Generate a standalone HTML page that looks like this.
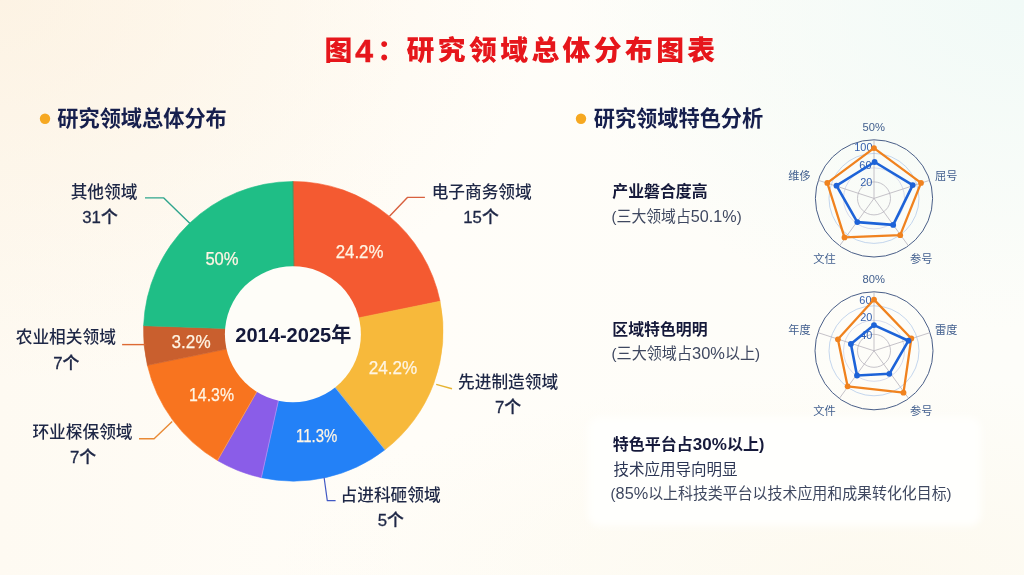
<!DOCTYPE html>
<html lang="zh-CN"><head><meta charset="utf-8"><title>图4：研究领域总体分布图表</title>
<style>
html,body{margin:0;padding:0;}
body{width:1024px;height:575px;overflow:hidden;font-family:"Liberation Sans","Noto Sans CJK SC",sans-serif;
background:
 radial-gradient(ellipse 540px 380px at 0% 0%, rgba(252,240,222,0.7), rgba(252,239,220,0) 100%),
 radial-gradient(ellipse 460px 330px at 100% 0%, rgba(241,250,247,1), rgba(241,250,247,0) 100%),
 radial-gradient(ellipse 600px 200px at 85% 100%, rgba(253,249,238,0.9), rgba(253,249,238,0) 100%),
 linear-gradient(90deg,#fefaf2 0%,#fffdf8 40%,#fdfdf9 100%);}
svg{display:block}
</style></head><body>
<svg width="1024" height="575" viewBox="0 0 1024 575" font-family='"Liberation Sans","Noto Sans CJK SC",sans-serif'>
<defs><filter id="blur" x="-10%" y="-20%" width="120%" height="140%"><feGaussianBlur stdDeviation="3"/></filter></defs>
<rect x="588" y="417" width="393" height="109" rx="12" fill="#fffffd" filter="url(#blur)"/>
<path d="M293.93 280.00L293.00 181.50A149.8 149.8 0 0 1 440.05 301.23L346.18 320.40Z" fill="#f45a31" stroke="#f45a31" stroke-width="0.6"/><path d="M346.18 320.40L440.05 301.23A149.8 149.8 0 0 1 384.92 449.82L326.87 377.06Z" fill="#f7b93b" stroke="#f7b93b" stroke-width="0.6"/><path d="M326.87 377.06L384.92 449.82A149.8 149.8 0 0 1 261.37 477.66L281.43 387.03Z" fill="#2381f7" stroke="#2381f7" stroke-width="0.6"/><path d="M281.43 387.03L261.37 477.66A149.8 149.8 0 0 1 217.50 460.50L263.96 379.35Z" fill="#8a5de8" stroke="#8a5de8" stroke-width="0.6"/><path d="M263.96 379.35L217.50 460.50A149.8 149.8 0 0 1 147.41 365.32L238.61 346.58Z" fill="#f8741f" stroke="#f8741f" stroke-width="0.6"/><path d="M238.61 346.58L147.41 365.32A149.8 149.8 0 0 1 143.60 325.70L238.89 328.98Z" fill="#c95f2e" stroke="#c95f2e" stroke-width="0.6"/><path d="M238.89 328.98L143.60 325.70A149.8 149.8 0 0 1 293.00 181.50L293.93 280.00Z" fill="#1fbe86" stroke="#1fbe86" stroke-width="0.6"/><line x1="293.93" y1="280.00" x2="293.00" y2="181.50" stroke="#8a5a30" stroke-opacity="0.55" stroke-width="0.9"/><line x1="326.87" y1="377.06" x2="384.92" y2="449.82" stroke="#ffe9b0" stroke-opacity="0.5" stroke-width="0.9"/><line x1="281.43" y1="387.03" x2="261.37" y2="477.66" stroke="#c9b6ff" stroke-opacity="0.5" stroke-width="0.9"/><line x1="263.96" y1="379.35" x2="217.50" y2="460.50" stroke="#ffc9a0" stroke-opacity="0.45" stroke-width="0.9"/><circle cx="292.9" cy="334.2" r="68.0" fill="#fefdf8"/>
<path d="M145 197.9L163.8 197.9L190 223.6" fill="none" stroke="#2fa58d" stroke-width="1.4" stroke-linejoin="round"/><path d="M424.9 197.4L407.4 197.4L389.5 216.2" fill="none" stroke="#d8603e" stroke-width="1.4" stroke-linejoin="round"/><path d="M122.1 344.6L145.5 344.6" fill="none" stroke="#dd6a33" stroke-width="1.4" stroke-linejoin="round"/><path d="M436.2 384.4L452 388.7" fill="none" stroke="#e6b432" stroke-width="1.4" stroke-linejoin="round"/><path d="M139 438.7L154.1 438.7L172.2 421.5" fill="none" stroke="#e98a35" stroke-width="1.4" stroke-linejoin="round"/><path d="M324.1 477.5L327.3 500.6L335.6 500.6" fill="none" stroke="#4159c4" stroke-width="1.2" stroke-linejoin="round"/>
<text x="222" y="264.59999999999997" font-size="17.9" fill="#fff5e4" font-weight="400" text-anchor="middle" stroke="#fff5e4" stroke-width="0.25" textLength="33.2" lengthAdjust="spacingAndGlyphs">50%</text><text x="359.6" y="257.8" font-size="17.9" fill="#fff5e4" font-weight="400" text-anchor="middle" stroke="#fff5e4" stroke-width="0.25" textLength="47.8" lengthAdjust="spacingAndGlyphs">24.2%</text><text x="393" y="373.9" font-size="17.9" fill="#fff5e4" font-weight="400" text-anchor="middle" stroke="#fff5e4" stroke-width="0.25" textLength="48.5" lengthAdjust="spacingAndGlyphs">24.2%</text><text x="316.7" y="442.0" font-size="17.9" fill="#fff5e4" font-weight="400" text-anchor="middle" stroke="#fff5e4" stroke-width="0.25" textLength="41.3" lengthAdjust="spacingAndGlyphs">11.3%</text><text x="211.5" y="401.0" font-size="17.9" fill="#fff5e4" font-weight="400" text-anchor="middle" stroke="#fff5e4" stroke-width="0.25" textLength="45" lengthAdjust="spacingAndGlyphs">14.3%</text><text x="191.1" y="348.2" font-size="17.9" fill="#fff5e4" font-weight="400" text-anchor="middle" stroke="#fff5e4" stroke-width="0.25" textLength="39" lengthAdjust="spacingAndGlyphs">3.2%</text><text x="293.3" y="341.5" font-size="20.1" fill="#14193a" font-weight="700" text-anchor="middle" >2014-2025年</text><text x="104" y="197.5" font-size="16.7" fill="#1e2746" font-weight="500" text-anchor="middle" >其他领域</text><text x="100" y="223.0" font-size="16.8" fill="#1e2746" font-weight="500" text-anchor="middle" stroke="#1e2746" stroke-width="0.3">31个</text><text x="481.7" y="197.5" font-size="16.7" fill="#1e2746" font-weight="500" text-anchor="middle" >电子商务领域</text><text x="481" y="223.0" font-size="16.8" fill="#1e2746" font-weight="500" text-anchor="middle" stroke="#1e2746" stroke-width="0.3">15个</text><text x="65.8" y="343.4" font-size="16.7" fill="#1e2746" font-weight="500" text-anchor="middle" >农业相关领域</text><text x="66.2" y="368.5" font-size="16.8" fill="#1e2746" font-weight="500" text-anchor="middle" stroke="#1e2746" stroke-width="0.3">7个</text><text x="508.1" y="388.1" font-size="16.7" fill="#1e2746" font-weight="500" text-anchor="middle" >先进制造领域</text><text x="508" y="413.0" font-size="16.8" fill="#1e2746" font-weight="500" text-anchor="middle" stroke="#1e2746" stroke-width="0.3">7个</text><text x="82.5" y="438.0" font-size="16.7" fill="#1e2746" font-weight="500" text-anchor="middle" >环业棎保领域</text><text x="83.1" y="463.0" font-size="16.8" fill="#1e2746" font-weight="500" text-anchor="middle" stroke="#1e2746" stroke-width="0.3">7个</text><text x="390.6" y="501.2" font-size="16.7" fill="#1e2746" font-weight="500" text-anchor="middle" >占进科砸领域</text><text x="390.8" y="526.3" font-size="16.8" fill="#1e2746" font-weight="500" text-anchor="middle" stroke="#1e2746" stroke-width="0.3">5个</text>
<text y="59.7" font-size="27.8" font-weight="900" fill="#e6161b" letter-spacing="3.4"><tspan x="324.6">图</tspan><tspan x="355.2" y="61.8" font-size="32" stroke="#e6161b" stroke-width="0.5">4</tspan><tspan x="377.3" y="59.7">：</tspan><tspan x="406.6">研究领域总体分布图表</tspan></text><circle cx="45" cy="118.7" r="5.2" fill="#f6a821"/><text x="57.3" y="126.2" font-size="21.2" fill="#161f4d" font-weight="700" text-anchor="start" >研究领域总体分布</text><circle cx="581" cy="118.7" r="5.2" fill="#f6a821"/><text x="593.7" y="126.2" font-size="21.2" fill="#161f4d" font-weight="700" text-anchor="start" >研究领域特色分析</text>
<text x="612.3" y="197.3" font-size="15.9" fill="#15193a" font-weight="700" text-anchor="start" >产业磐合度高</text><text x="611.6" y="221.6" font-size="15.4" fill="#3f4860" font-weight="400" text-anchor="start" textLength="130" lengthAdjust="spacingAndGlyphs">(三大领域占<tspan font-size="16.8">50.1%</tspan>)</text><text x="612.3" y="334.9" font-size="15.9" fill="#15193a" font-weight="700" text-anchor="start" >区域特色明明</text><text x="611.6" y="359.4" font-size="15.4" fill="#3f4860" font-weight="400" text-anchor="start" textLength="148.5" lengthAdjust="spacingAndGlyphs">(三大领域占<tspan font-size="16.8">30%</tspan>以上)</text><text x="612.8" y="450" font-size="15.9" fill="#15193a" font-weight="700" text-anchor="start" textLength="151.5" lengthAdjust="spacingAndGlyphs">特色平台占<tspan font-size="16.9">30%</tspan>以上)</text><text x="613.4" y="475.2" font-size="15.5" fill="#2c3654" font-weight="400" text-anchor="start" >技术应用导向明显</text><text x="610.6" y="499.4" font-size="15.4" fill="#3f4860" font-weight="400" text-anchor="start" textLength="341" lengthAdjust="spacingAndGlyphs">(<tspan font-size="16.8">85%</tspan>以上科技类平台以技术应用和成果转化化目标)</text>
<circle cx="874" cy="198.4" r="16.5" fill="none" stroke="#b7b5be" stroke-width="0.8"/><circle cx="874" cy="198.4" r="30.5" fill="none" stroke="#cdd2e8" stroke-width="0.8"/><circle cx="874" cy="198.4" r="45" fill="none" stroke="#b5cbea" stroke-width="0.8"/><circle cx="874" cy="198.4" r="58.6" fill="none" stroke="#4a5f88" stroke-width="1"/><line x1="874" y1="198.4" x2="874.0" y2="139.8" stroke="#b6b3bb" stroke-width="0.8"/><line x1="874" y1="198.4" x2="929.7" y2="180.3" stroke="#b6b3bb" stroke-width="0.8"/><line x1="874" y1="198.4" x2="908.4" y2="245.8" stroke="#b6b3bb" stroke-width="0.8"/><line x1="874" y1="198.4" x2="839.6" y2="245.8" stroke="#b6b3bb" stroke-width="0.8"/><line x1="874" y1="198.4" x2="818.3" y2="180.3" stroke="#b6b3bb" stroke-width="0.8"/><text x="863.4" y="150.9" font-size="10.9" fill="#335fae" font-weight="400" text-anchor="middle" >100</text><text x="865.4" y="168.70000000000002" font-size="10.9" fill="#335fae" font-weight="400" text-anchor="middle" >60</text><text x="866.2" y="185.70000000000002" font-size="10.9" fill="#335fae" font-weight="400" text-anchor="middle" >20</text><polygon points="874,148.1 921,182.9 900.2,235.2 844.5,237.4 827.3,182.9" fill="none" stroke="#f0821e" stroke-width="2.3" stroke-linejoin="round"/><circle cx="874" cy="148.1" r="2.9" fill="#f0821e"/><circle cx="921" cy="182.9" r="2.9" fill="#f0821e"/><circle cx="900.2" cy="235.2" r="2.9" fill="#f0821e"/><circle cx="844.5" cy="237.4" r="2.9" fill="#f0821e"/><circle cx="827.3" cy="182.9" r="2.9" fill="#f0821e"/><polygon points="874.6,162 912.7,185.1 893.2,224.9 857.3,222.1 836.5,185.7" fill="none" stroke="#1d63d8" stroke-width="2.6" stroke-linejoin="round"/><circle cx="874.6" cy="162" r="2.9" fill="#1d63d8"/><circle cx="912.7" cy="185.1" r="2.9" fill="#1d63d8"/><circle cx="893.2" cy="224.9" r="2.9" fill="#1d63d8"/><circle cx="857.3" cy="222.1" r="2.9" fill="#1d63d8"/><circle cx="836.5" cy="185.7" r="2.9" fill="#1d63d8"/><text x="873.7" y="130.9" font-size="11.2" fill="#43608f" font-weight="400" text-anchor="middle" >50%</text><text x="799.5" y="180.2" font-size="11.2" fill="#43608f" font-weight="400" text-anchor="middle" >维侈</text><text x="946.3" y="180.2" font-size="11.2" fill="#43608f" font-weight="400" text-anchor="middle" >屈号</text><text x="824.5" y="262.5" font-size="11.2" fill="#43608f" font-weight="400" text-anchor="middle" >文住</text><text x="921.3" y="262.5" font-size="11.2" fill="#43608f" font-weight="400" text-anchor="middle" >参号</text><circle cx="874" cy="350.8" r="16.5" fill="none" stroke="#b7b5be" stroke-width="0.8"/><circle cx="874" cy="350.8" r="30.5" fill="none" stroke="#cdd2e8" stroke-width="0.8"/><circle cx="874" cy="350.8" r="45" fill="none" stroke="#b5cbea" stroke-width="0.8"/><circle cx="874" cy="350.8" r="59" fill="none" stroke="#4a5f88" stroke-width="1"/><line x1="874" y1="350.8" x2="874.0" y2="291.8" stroke="#b6b3bb" stroke-width="0.8"/><line x1="874" y1="350.8" x2="930.1" y2="332.6" stroke="#b6b3bb" stroke-width="0.8"/><line x1="874" y1="350.8" x2="908.7" y2="398.5" stroke="#b6b3bb" stroke-width="0.8"/><line x1="874" y1="350.8" x2="839.3" y2="398.5" stroke="#b6b3bb" stroke-width="0.8"/><line x1="874" y1="350.8" x2="817.9" y2="332.6" stroke="#b6b3bb" stroke-width="0.8"/><text x="865.4" y="303.5" font-size="10.9" fill="#335fae" font-weight="400" text-anchor="middle" >60</text><text x="866.2" y="320.7" font-size="10.9" fill="#335fae" font-weight="400" text-anchor="middle" >20</text><text x="866.2" y="338.79999999999995" font-size="10.9" fill="#335fae" font-weight="400" text-anchor="middle" >40</text><polygon points="874,299.6 911.3,338.5 903.5,392.7 847.6,386.3 837.9,339.3" fill="none" stroke="#f0821e" stroke-width="2.3" stroke-linejoin="round"/><circle cx="874" cy="299.6" r="2.9" fill="#f0821e"/><circle cx="911.3" cy="338.5" r="2.9" fill="#f0821e"/><circle cx="903.5" cy="392.7" r="2.9" fill="#f0821e"/><circle cx="847.6" cy="386.3" r="2.9" fill="#f0821e"/><circle cx="837.9" cy="339.3" r="2.9" fill="#f0821e"/><polygon points="874,325.1 908.5,340.7 889.3,373.8 857,375.5 850.9,344" fill="none" stroke="#1d63d8" stroke-width="2.6" stroke-linejoin="round"/><circle cx="874" cy="325.1" r="2.9" fill="#1d63d8"/><circle cx="908.5" cy="340.7" r="2.9" fill="#1d63d8"/><circle cx="889.3" cy="373.8" r="2.9" fill="#1d63d8"/><circle cx="857" cy="375.5" r="2.9" fill="#1d63d8"/><circle cx="850.9" cy="344" r="2.9" fill="#1d63d8"/><text x="873.7" y="282.9" font-size="11.2" fill="#43608f" font-weight="400" text-anchor="middle" >80%</text><text x="799.5" y="333.8" font-size="11.2" fill="#43608f" font-weight="400" text-anchor="middle" >年度</text><text x="946.3" y="333.8" font-size="11.2" fill="#43608f" font-weight="400" text-anchor="middle" >雷度</text><text x="824.5" y="415.0" font-size="11.2" fill="#43608f" font-weight="400" text-anchor="middle" >文件</text><text x="921.3" y="415.0" font-size="11.2" fill="#43608f" font-weight="400" text-anchor="middle" >参号</text>
</svg>
</body></html>
